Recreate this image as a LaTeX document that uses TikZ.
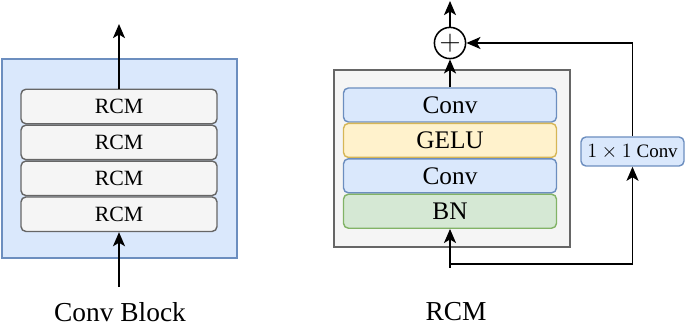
\documentclass[tikz,border=0pt]{standalone}
\usepackage{fontspec}
\setmainfont{Liberation Serif}
\usetikzlibrary{arrows.meta, positioning}
\definecolor{birumuda}{HTML}{DAE8FC}
\definecolor{birugaris}{HTML}{6C8EBF}
\definecolor{abumuda}{HTML}{F5F5F5}
\definecolor{abugaris}{HTML}{666666}
\definecolor{kuningmuda}{HTML}{FFF2CC}
\definecolor{kuninggaris}{HTML}{D6B656}
\definecolor{hijaumuda}{HTML}{D5E8D4}
\definecolor{hijaugaris}{HTML}{82B366}

\begin{document}
\begin{tikzpicture}[
        panah/.style={-{Stealth[length=10pt, width=8.5pt, inset=2.5pt]}, line width=1.4pt},
        latar/.style={rectangle, draw=birugaris, fill=birumuda, line width=1pt},
        rcmbox/.style={rectangle, rounded corners=3.5pt, draw=abugaris, fill=abumuda, line width=1pt,
                    minimum width=4.9cm, minimum height=0.8625cm, font=\fontsize{15.5}{18}\selectfont},
        lapis/.style={rectangle, rounded corners=3.5pt, line width=1pt,
                    minimum width=5.325cm, minimum height=0.85cm, font=\fontsize{18}{20}\selectfont},
        caption/.style={font=\fontsize{19.5}{23}\selectfont}
    ]
        \useasboundingbox (0,0) rectangle (17.125,8.2);

        % Conv Block
        \node[latar, minimum width=5.875cm, minimum height=4.975cm] (bg) at (2.9875,4.2375) {};
        \node[rcmbox] (r1) at (2.975,5.5375) {RCM};
        \node[rcmbox, below=0pt of r1] (r2) {RCM};
        \node[rcmbox, below=0pt of r2] (r3) {RCM};
        \node[rcmbox, below=0pt of r3] (r4) {RCM};
        \coordinate (kiriatas) at (2.975,7.6);
        \coordinate (kiribawah) at (2.975,1.025);
        \draw[panah] (r1.north) -- (kiriatas);
        \draw[panah] (kiribawah) -- (r4.south);
        \node[caption] (capblok) at (3.0,0.4) {Conv Block};

        % RCM
        \node[rectangle, draw=abugaris, fill=abumuda, line width=1pt,
              minimum width=5.9cm, minimum height=4.425cm] (rcmbg) at (11.3,4.2375) {};
        \node[lapis, draw=birugaris, fill=birumuda] (conva) at (11.25,5.575) {Conv};
        \node[lapis, draw=kuninggaris, fill=kuningmuda, below=0pt of conva] (gelu) {GELU};
        \node[lapis, draw=birugaris, fill=birumuda, below=0pt of gelu] (convb) {Conv};
        \node[lapis, draw=hijaugaris, fill=hijaumuda, below=0pt of convb] (bn) {BN};
        \node[circle, draw, line width=1.1pt, minimum size=0.78cm, inner sep=0pt,
              font=\fontsize{20}{22}\selectfont] (plus) at (11.25,7.125) {$+$};
        \node[rectangle, rounded corners=3.5pt, draw=birugaris, fill=birumuda, line width=1pt,
              minimum width=2.575cm, minimum height=0.725cm, font=\fontsize{13.5}{15}\selectfont]
              (satu) at (15.8125,4.4125) {$1\times1$ Conv};
        \coordinate (masuk) at (11.25,1.5);
        \coordinate (cabang) at (11.25,1.6);
        \coordinate (keluar) at (11.25,8.175);
        \draw[panah] (masuk) -- (bn.south);
        \draw[panah] (cabang) -| (satu.south);
        \draw[panah] (satu.north) |- (plus.east);
        \draw[panah] (conva.north) -- (plus.south);
        \draw[panah] (plus.north) -- (keluar);
        \node[caption] (caprcm) at (11.4,0.4) {RCM};
    \end{tikzpicture}
\end{document}
